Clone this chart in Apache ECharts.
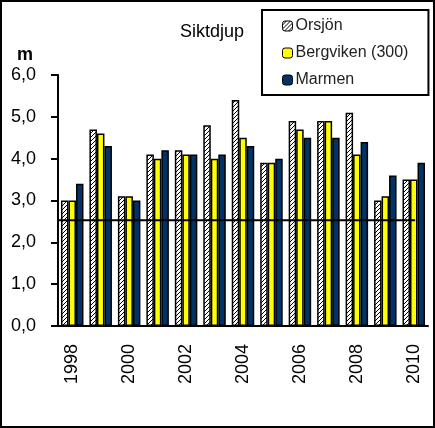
<!DOCTYPE html>
<html>
<head>
<meta charset="utf-8">
<script src="https://cdn.jsdelivr.net/npm/echarts@6/dist/echarts.min.js"></script>
<style>
  html, body { margin: 0; padding: 0; background: #fff; }
  #main { width: 435px; height: 428px; box-sizing: border-box; border: 2px solid #000; }
</style>
</head>
<body>
<div id="main"></div>
<script>
// Siktdjup (m) per år
var years = ['1998', '1999', '2000', '2001', '2002', '2003', '2004', '2005', '2006', '2007', '2008', '2009', '2010'];
var orsjon = [3.0, 4.7, 3.1, 4.1, 4.2, 4.8, 5.4, 3.9, 4.9, 4.9, 5.1, 3.0, 3.5];
var bergviken = [3.0, 4.6, 3.1, 4.0, 4.1, 4.0, 4.5, 3.9, 4.7, 4.9, 4.1, 3.1, 3.5];
var marmen = [3.4, 4.3, 3.0, 4.2, 4.1, 4.1, 4.3, 4.0, 4.5, 4.5, 4.4, 3.6, 3.9];
var refLine = [[0, 2.53], [12.55, 2.53]];
var yTicks = [0, 1, 2, 3, 4, 5, 6];

var FONT = '"Liberation Sans", Arial, sans-serif';

// snedstreckat mönster för Orsjön
function hatch() {
  var c = document.createElement('canvas');
  c.width = 4; c.height = 4;
  var ctx = c.getContext('2d');
  ctx.fillStyle = '#fff';
  ctx.fillRect(0, 0, 4, 4);
  ctx.strokeStyle = '#000';
  ctx.lineWidth = 1;
  ctx.beginPath();
  ctx.moveTo(0, 4); ctx.lineTo(4, 0);
  ctx.moveTo(-1, 1); ctx.lineTo(1, -1);
  ctx.moveTo(3, 5); ctx.lineTo(5, 3);
  ctx.stroke();
  return c;
}

var chart = echarts.init(document.getElementById('main'), null, { renderer: 'canvas' });

var barStyle = function (color) {
  return { color: color, borderColor: '#000', borderWidth: 1.5 };
};

var option = {
  animation: false,
  title: [
    { text: 'Siktdjup', left: 173, top: 16, textStyle: { fontFamily: FONT, fontSize: 18, fontWeight: 'normal', color: '#000' } },
    { text: 'm', left: 10, top: 39, textStyle: { fontFamily: FONT, fontSize: 18, fontWeight: 'bold', color: '#000' } }
  ],
  legend: {
    orient: 'vertical',
    left: 260,
    top: 8,
    padding: [7, 20, 6, 20],
    itemGap: 9,
    itemWidth: 10,
    itemHeight: 10,
    itemStyle: { borderColor: '#000', borderWidth: 1 },
    borderColor: '#000',
    borderWidth: 2,
    backgroundColor: '#fff',
    textStyle: { fontFamily: FONT, fontSize: 16, color: '#222', lineHeight: 18, padding: [0, 0, 0, -2] },
    data: ['Orsjön', 'Bergviken (300)', 'Marmen']
  },
  grid: { left: 56, right: 5, top: 73, bottom: 100 },
  xAxis: [
    {
      type: 'category',
      data: years,
      axisLine: { lineStyle: { color: '#000', width: 2 } },
      axisTick: { show: false },
      axisLabel: { interval: 1, rotate: 90, margin: 18, fontFamily: FONT, fontSize: 18, color: '#000' },
      splitLine: { show: false }
    },
    {
      type: 'value',
      min: 0,
      max: 13,
      show: false
    }
  ],
  yAxis: {
    type: 'value',
    min: 0,
    max: 6,
    interval: 1,
    axisLine: { show: true, lineStyle: { color: '#000', width: 2 } },
    axisTick: { show: true, inside: false, length: 7, lineStyle: { color: '#000', width: 2 } },
    axisLabel: {
      margin: 22,
      fontFamily: FONT,
      fontSize: 18,
      color: '#000',
      formatter: function (v) { return yTicks.indexOf(v) >= 0 ? v.toFixed(1).replace('.', ',') : ''; }
    },
    splitLine: { show: false }
  },
  series: [
    {
      name: 'Orsjön',
      type: 'bar',
      data: orsjon,
      barWidth: 7.5,
      barGap: '0%',
      itemStyle: barStyle({ image: hatch(), repeat: 'repeat' })
    },
    {
      name: 'Bergviken (300)',
      type: 'bar',
      data: bergviken,
      barWidth: 7.5,
      barGap: '0%',
      itemStyle: barStyle('#ffff00')
    },
    {
      name: 'Marmen',
      type: 'bar',
      data: marmen,
      barWidth: 7.5,
      barGap: '0%',
      itemStyle: barStyle('#003366')
    },
    {
      type: 'line',
      xAxisIndex: 1,
      data: refLine,
      symbol: 'none',
      silent: true,
      lineStyle: { color: '#000', width: 2 },
      z: 5
    }
  ]
};

chart.setOption(option);
</script>
</body>
</html>
